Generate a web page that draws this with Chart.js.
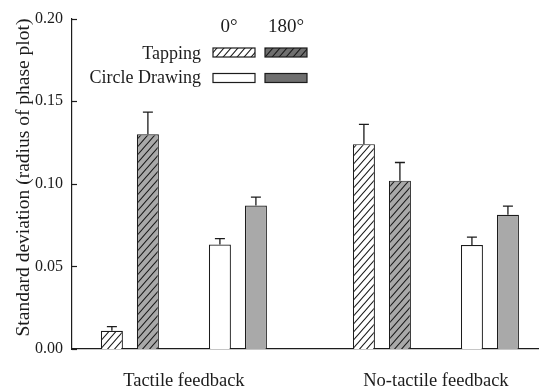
<!DOCTYPE html>
<html><head><meta charset="utf-8">
<script src="https://cdn.jsdelivr.net/npm/chart.js@4"></script>
<style>html,body{margin:0;padding:0;background:#fff;overflow:hidden}#wrap{width:539px;height:392px}</style>
</head><body><div id="wrap"><canvas id="c" width="539" height="392"></canvas></div>
<script>
// ---- data ----
const groups = ["Tactile feedback", "No-tactile feedback"];
const seriesNames = ["Tapping 0°", "Tapping 180°", "Circle Drawing 0°", "Circle Drawing 180°"];
const tapping0 = [0.011, 0.124];
const tapping0Err = [0.0026, 0.012];
const tapping180 = [0.130, 0.1019];
const tapping180Err = [0.0134, 0.011];
const circle0 = [0.0632, 0.0629];
const circle0Err = [0.0036, 0.0048];
const circle180 = [0.0869, 0.0813];
const circle180Err = [0.005, 0.0052];
const yTicks = [0, 0.05, 0.10, 0.15, 0.20];
const legendRows = ["Tapping", "Circle Drawing"];
const legendCols = ["0°", "180°"];
const yTitle = "Standard deviation (radius of phase plot)";

// ---- styles ----
const SERIF = "'Liberation Serif', 'Times New Roman', serif";
const INK = '#1c1c1c';
const GRAY = '#a9a9a9';
const LEG_GRAY = '#6f6f6f';

const canvas = document.getElementById('c');
const ctx = canvas.getContext('2d');
function hatch(bg) {
  const w = 7, h = 8;
  const c = document.createElement('canvas'); c.width = w; c.height = h;
  const x = c.getContext('2d');
  x.fillStyle = bg; x.fillRect(0, 0, w, h);
  x.strokeStyle = '#1a1a1a'; x.lineWidth = 1.1;
  x.beginPath();
  for (const s of [-w, 0, w]) { x.moveTo(s - w, 2 * h); x.lineTo(s + 2 * w, -h); }
  x.stroke();
  return ctx.createPattern(c, 'repeat');
}
const pts = arr => arr.map((v, i) => ({ x: i, y: v }));
const base = { borderColor: INK, borderWidth: 1.2 };

const datasets = [
  Object.assign({ label: seriesNames[0], data: pts(tapping0), err: tapping0Err, backgroundColor: hatch('#ffffff') }, base),
  Object.assign({ label: seriesNames[1], data: pts(tapping180), err: tapping180Err, backgroundColor: hatch(GRAY) }, base),
  { label: '', data: groups.map((g, i) => ({ x: i, y: null })), borderWidth: 0, backgroundColor: 'rgba(0,0,0,0)' },
  Object.assign({ label: seriesNames[2], data: pts(circle0), err: circle0Err, backgroundColor: '#ffffff' }, base),
  Object.assign({ label: seriesNames[3], data: pts(circle180), err: circle180Err, backgroundColor: GRAY }, base)
];

const extras = {
  id: 'extras',
  afterDatasetsDraw(chart) {
    const c = chart.ctx, y = chart.scales.y;
    c.save();
    c.strokeStyle = INK; c.lineWidth = 1.3;
    chart.data.datasets.forEach((ds, di) => {
      if (!ds.err) return;
      chart.getDatasetMeta(di).data.forEach((el, i) => {
        const top = y.getPixelForValue(ds.data[i].y + ds.err[i]);
        c.beginPath();
        c.moveTo(el.x, el.y); c.lineTo(el.x, top);
        c.moveTo(el.x - 5, top); c.lineTo(el.x + 5, top);
        c.stroke();
      });
    });
    // inward y ticks
    const left = chart.chartArea.left;
    c.lineWidth = 1.2;
    yTicks.forEach(v => {
      const py = Math.round(y.getPixelForValue(v)) + 0.5;
      c.beginPath(); c.moveTo(left, py); c.lineTo(left + 5, py); c.stroke();
    });
    c.restore();
  },
  afterDraw(chart) {
    const c = chart.ctx;
    c.save();
    c.fillStyle = INK;
    c.textBaseline = 'alphabetic';
    c.font = '19px ' + SERIF;
    c.textAlign = 'center';
    c.fillText(legendCols[0], 229, 32);
    c.fillText(legendCols[1], 286, 32);
    c.font = '18px ' + SERIF;
    c.textAlign = 'right';
    c.fillText(legendRows[0], 201, 59);
    c.fillText(legendRows[1], 201, 82.5);
    const sw = [
      [213, 48, hatch('#ffffff')], [265, 48, hatch(LEG_GRAY)],
      [213, 73.5, '#ffffff'], [265, 73.5, LEG_GRAY]
    ];
    c.strokeStyle = INK; c.lineWidth = 1.2;
    sw.forEach(([x, y, f]) => {
      c.fillStyle = f; c.fillRect(x, y, 42, 9);
      c.strokeRect(x, y, 42, 9);
    });
    c.restore();
  }
};

new Chart(canvas, {
  type: 'bar',
  data: { datasets },
  options: {
    responsive: false, animation: false, devicePixelRatio: 1,
    layout: { padding: { top: 16, right: 0, bottom: 0, left: 0 } },
    plugins: { legend: { display: false }, tooltip: { enabled: false } },
    datasets: { bar: { categoryPercentage: 5 / 7, barPercentage: 22 / 36 } },
    scales: {
      x: {
        type: 'linear', min: -0.444, max: 1.409, offset: false,
        afterBuildTicks: s => { s.ticks = groups.map((g, i) => ({ value: i })); },
        afterFit: s => { s.height = 43; },
        ticks: { callback: v => groups[v], font: { family: SERIF, size: 18.5 }, color: INK, padding: 21, maxRotation: 0, autoSkip: false },
        grid: { display: false, drawTicks: false },
        border: { display: true, color: INK, width: 1.2 }
      },
      y: {
        min: 0, max: 0.2,
        afterBuildTicks: s => { s.ticks = yTicks.map(v => ({ value: v })); },
        afterFit: s => { s.width = 72; },
        ticks: { callback: v => v.toFixed(2), font: { family: SERIF, size: 16 }, color: INK, padding: 9 },
        grid: { display: false, drawTicks: false },
        border: { display: true, color: INK, width: 1.2 },
        title: { display: true, text: yTitle, align: 'end', font: { family: SERIF, size: 19.5 }, color: INK, padding: { top: 12, bottom: 0 } }
      }
    }
  },
  plugins: [extras]
});
</script></body></html>
